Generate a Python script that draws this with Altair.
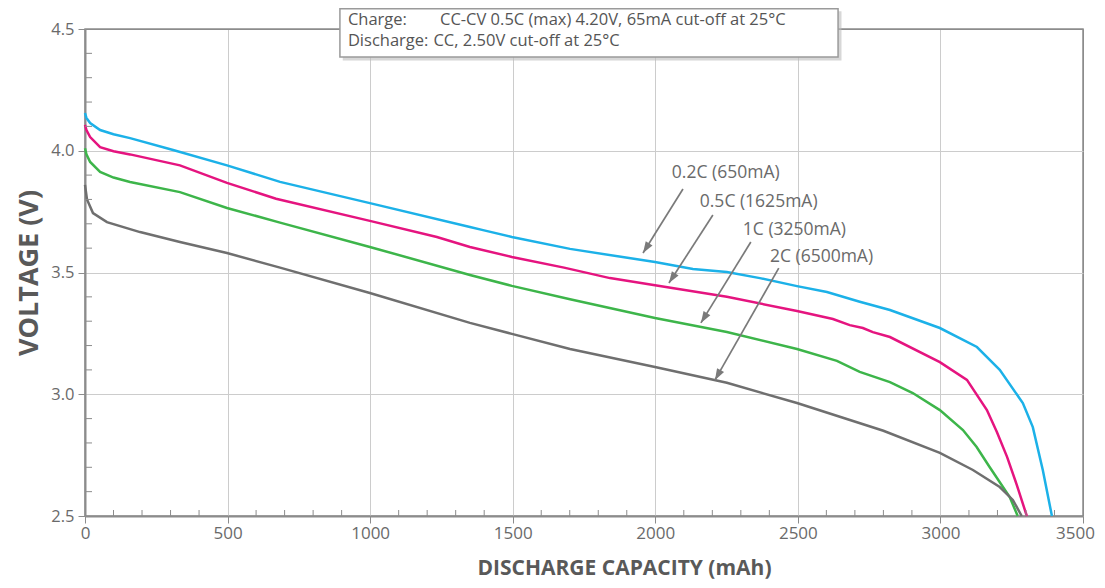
import math
import altair as alt
import pandas as pd

# ---------------- data ----------------
cap_02 = [0, 5, 18, 53, 100, 158, 309, 498, 684, 999, 1350, 1396, 1497, 1701, 1999, 2132, 2251, 2367, 2497, 2602, 2717, 2823, 2998, 3128, 3208, 3289, 3324, 3359, 3391]
v_02 = [4.155, 4.135, 4.114, 4.085, 4.068, 4.052, 4.003, 3.94, 3.872, 3.785, 3.687, 3.674, 3.646, 3.597, 3.543, 3.514, 3.502, 3.477, 3.444, 3.42, 3.38, 3.346, 3.272, 3.194, 3.10, 2.964, 2.865, 2.689, 2.50]

cap_05 = [0, 5, 18, 53, 100, 158, 333, 498, 670, 999, 1234, 1350, 1497, 1680, 1841, 1999, 2251, 2497, 2623, 2682, 2728, 2763, 2823, 2998, 3093, 3163, 3198, 3234, 3268, 3303]
v_05 = [4.106, 4.085, 4.056, 4.015, 3.998, 3.985, 3.94, 3.868, 3.803, 3.712, 3.646, 3.605, 3.564, 3.52, 3.477, 3.448, 3.40, 3.342, 3.309, 3.284, 3.272, 3.255, 3.235, 3.132, 3.059, 2.935, 2.845, 2.742, 2.627, 2.50]

cap_1 = [0, 5, 18, 53, 100, 158, 333, 498, 684, 999, 1350, 1497, 1701, 1999, 2251, 2497, 2637, 2717, 2823, 2903, 2998, 3079, 3127, 3173, 3243, 3271]
v_1 = [4.01, 3.985, 3.954, 3.913, 3.89, 3.872, 3.83, 3.765, 3.705, 3.605, 3.49, 3.445, 3.39, 3.313, 3.256, 3.186, 3.137, 3.092, 3.05, 3.005, 2.935, 2.853, 2.783, 2.70, 2.578, 2.50]

cap_2 = [0, 7, 28, 77, 193, 333, 498, 684, 999, 1350, 1497, 1701, 1999, 2251, 2497, 2800, 2998, 3114, 3208, 3254, 3285]
v_2 = [3.86, 3.80, 3.744, 3.707, 3.666, 3.625, 3.58, 3.52, 3.416, 3.293, 3.248, 3.186, 3.112, 3.047, 2.964, 2.85, 2.759, 2.689, 2.619, 2.566, 2.50]

series_names = ["0.2C", "0.5C", "1C", "2C"]
series_colors = ["#1cb1e8", "#e5147f", "#3db54a", "#6f6f6f"]

label_texts = ["0.2C (650mA)", "0.5C (1625mA)", "1C (3250mA)", "2C (6500mA)"]
label_x = [2058, 2156, 2307, 2402]
label_y = [3.909, 3.79, 3.675, 3.564]

arrow_x = [2097, 2202, 2335, 2433]
arrow_y = [3.843, 3.736, 3.625, 3.518]
arrow_tip_x = [1957, 2048, 2160, 2209]
arrow_tip_y = [3.580, 3.457, 3.293, 3.058]

x_ticks = [0, 500, 1000, 1500, 2000, 2500, 3000, 3500]
y_ticks = [2.5, 3.0, 3.5, 4.0, 4.5]
x_minor = [v for v in range(100, 3500, 100) if v % 500 != 0]
y_minor = [round(2.5 + 0.1 * i, 1) for i in range(1, 20) if i % 5 != 0]

note_keys = ["Charge:", "Discharge:"]
note_vals = ["CC-CV 0.5C (max) 4.20V, 65mA cut-off at 25°C", "CC, 2.50V cut-off at 25°C"]
note_key_x = [922, 922]
note_val_x = [1245, 1222]
note_y = [4.537, 4.449]
box_x, box_x2, box_y, box_y2 = 894, 2641, 4.385, 4.583

# ---------------- layout ----------------
W, H = 998, 487
XMIN, XMAX, YMIN, YMAX = 0, 3500, 2.5, 4.5
FONT = "Open Sans"
TXT = "#6a6a6a"
AX = "#8c8c8c"

rows = []
for name, cs, vs in zip(series_names, [cap_02, cap_05, cap_1, cap_2], [v_02, v_05, v_1, v_2]):
    for i, (c, v) in enumerate(zip(cs, vs)):
        rows.append({"series": name, "cap": c, "volt": v, "i": i})
df = pd.DataFrame(rows)

xs = alt.Scale(domain=[XMIN, XMAX], nice=False, zero=False)
ys = alt.Scale(domain=[YMIN, YMAX], nice=False, zero=False)

base_x = alt.X("cap:Q", scale=xs,
               axis=alt.Axis(values=x_ticks, format="d", title="DISCHARGE CAPACITY (mAh)", grid=True,
                             labelFontSize=17, labelPadding=2, labelFlush=False,
                             labelOffset=alt.condition("datum.value == 3500", alt.value(-8), alt.value(0)),
                             titleFontSize=21, titleX=539, titleY=52, titleBaseline="middle",
                             gridColor=alt.condition("datum.value == 3500", alt.value(AX), alt.value("#cccccc"))))
base_y = alt.Y("volt:Q", scale=ys,
               axis=alt.Axis(values=y_ticks, format=".1f", title="VOLTAGE (V)", grid=True,
                             labelFontSize=16.5, labelPadding=4, labelFlush=False,
                             titleFontSize=27, titleX=-56, titleY=H / 2, titleBaseline="middle",
                             gridColor=alt.condition("datum.value == 4.5", alt.value(AX), alt.value("#cccccc"))))

lines = alt.Chart(df).mark_line(strokeWidth=2.5, clip=False).encode(
    x=base_x, y=base_y,
    color=alt.Color("series:N", scale=alt.Scale(domain=series_names, range=series_colors), legend=None),
    order="i:Q",
    detail="series:N",
)

# minor ticks
xm = alt.Chart(pd.DataFrame({"cap": x_minor})).mark_rule(color=AX, strokeWidth=1).encode(
    x=alt.X("cap:Q", scale=xs), y=alt.value(H - 6), y2=alt.value(H))
ym = alt.Chart(pd.DataFrame({"volt": y_minor})).mark_rule(color=AX, strokeWidth=1).encode(
    y=alt.Y("volt:Q", scale=ys), x=alt.value(0), x2=alt.value(7))

# arrows
pxx = W / (XMAX - XMIN)
pxy = H / (YMAX - YMIN)
angles = []
for x0, y0, x1, y1 in zip(arrow_x, arrow_y, arrow_tip_x, arrow_tip_y):
    dx = (x1 - x0) * pxx
    dy = -(y1 - y0) * pxy
    angles.append(math.degrees(math.atan2(dx, -dy)) % 360)
adf = pd.DataFrame({"cap": arrow_x, "volt": arrow_y, "cap2": arrow_tip_x, "volt2": arrow_tip_y, "angle": angles})
arrow_lines = alt.Chart(adf).mark_rule(color="#7a7a7a", strokeWidth=1.7).encode(
    x=alt.X("cap:Q", scale=xs), y=alt.Y("volt:Q", scale=ys), x2="cap2:Q", y2="volt2:Q")
arrow_heads = alt.Chart(adf).mark_point(
    shape="M0,0L0.8,2.3L-0.8,2.3Z", filled=True, color="#7a7a7a", size=100, opacity=1, strokeWidth=0
).encode(x=alt.X("cap2:Q", scale=xs), y=alt.Y("volt2:Q", scale=ys), angle=alt.Angle("angle:Q", scale=None))

ldf = pd.DataFrame({"cap": label_x, "volt": label_y, "t": label_texts})
labels = alt.Chart(ldf).mark_text(align="left", baseline="middle", font=FONT, fontSize=17.5, color=TXT).encode(
    x=alt.X("cap:Q", scale=xs), y=alt.Y("volt:Q", scale=ys), text="t:N")

# note box
bdf = pd.DataFrame({"cap": [box_x], "cap2": [box_x2], "volt": [box_y], "volt2": [box_y2]})
sdf = pd.DataFrame({"cap": [box_x + 10], "cap2": [box_x2 + 12], "volt": [box_y - 0.014], "volt2": [box_y2 - 0.01]})
shadow = alt.Chart(sdf).mark_rect(fill="#bdbdbd", opacity=0.6, clip=False).encode(
    x=alt.X("cap:Q", scale=xs), x2="cap2:Q", y=alt.Y("volt:Q", scale=ys), y2="volt2:Q")
box = alt.Chart(bdf).mark_rect(fill="white", stroke="#9a9a9a", strokeWidth=1.5, clip=False).encode(
    x=alt.X("cap:Q", scale=xs), x2="cap2:Q", y=alt.Y("volt:Q", scale=ys), y2="volt2:Q")
ndf = pd.DataFrame({"kx": note_key_x, "vx": note_val_x, "volt": note_y, "k": note_keys, "v": note_vals})
note_k = alt.Chart(ndf).mark_text(align="left", baseline="middle", font=FONT, fontSize=16.5, color="#555555").encode(
    x=alt.X("kx:Q", scale=xs), y=alt.Y("volt:Q", scale=ys), text="k:N")
note_v = alt.Chart(ndf).mark_text(align="left", baseline="middle", font=FONT, fontSize=16.5, color="#555555").encode(
    x=alt.X("vx:Q", scale=xs), y=alt.Y("volt:Q", scale=ys), text="v:N")

chart = alt.layer(lines, xm, ym, arrow_lines, arrow_heads, labels, shadow, box, note_k, note_v).properties(
    width=W, height=H,
    autosize=alt.AutoSizeParams(type="none"),
    padding={"left": 77, "top": 21, "right": 14, "bottom": 63},
).configure_view(stroke=AX, strokeWidth=1.5).configure_axis(
    gridWidth=1,
    domainColor=AX, domainWidth=2,
    tickColor=AX, tickSize=7, tickWidth=1,
    labelFont=FONT, labelColor=TXT,
    titleFont=FONT, titleFontWeight="bold", titleColor="#595959",
)

chart.save("out.html", embed_options={"renderer": "svg", "actions": False})
